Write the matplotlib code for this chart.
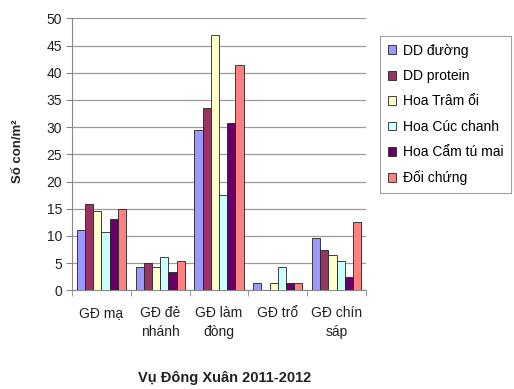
import matplotlib
matplotlib.use("Agg")
import matplotlib.pyplot as plt
import numpy as np

plt.rcParams['font.family'] = ['Liberation Sans', 'DejaVu Sans']

categories = ["GĐ mạ", "GĐ đẻ\nnhánh", "GĐ làm\nđòng", "GĐ trổ", "GĐ chín\nsáp"]
series_names = ["DD đường", "DD protein", "Hoa Trâm ổi", "Hoa Cúc chanh", "Hoa Cẩm tú mai", "Đối chứng"]
dd_duong = [11.1, 4.3, 29.5, 1.3, 9.7]
dd_protein = [15.8, 5.0, 33.6, 0.0, 7.5]
hoa_tram_oi = [14.6, 4.2, 47.0, 1.3, 6.4]
hoa_cuc_chanh = [10.8, 6.1, 17.6, 4.2, 5.4]
hoa_cam_tu_mai = [13.1, 3.4, 30.8, 1.3, 2.5]
doi_chung = [15.0, 5.3, 41.4, 1.3, 12.6]
series_values = [dd_duong, dd_protein, hoa_tram_oi, hoa_cuc_chanh, hoa_cam_tu_mai, doi_chung]
colors = ["#9999FF", "#993366", "#FFFFCC", "#CCFFFF", "#660066", "#FF8080"]
y_ticks = [0, 5, 10, 15, 20, 25, 30, 35, 40, 45, 50]

W, H = 514, 389
fig = plt.figure(figsize=(W / 100, H / 100), dpi=100)
ax = fig.add_axes([72 / W, 1 - 290.3 / H, (366 - 72) / W, (290.3 - 18.3) / H])

x = np.arange(len(categories))
bw = 0.14
n = len(series_values)
for i, (name, vals, c) in enumerate(zip(series_names, series_values, colors)):
    offs = (i - (n - 1) / 2) * bw
    ax.bar(x + offs, vals, width=bw, color=c, edgecolor="#222222", linewidth=0.6,
           label=name, zorder=3)

ax.set_xlim(-0.5, len(categories) - 0.5)
ax.set_ylim(0, 50)
ax.set_yticks(y_ticks)
ax.set_yticklabels([str(t) for t in y_ticks], fontsize=10, color="#222222")
ax.yaxis.grid(True, color="#9a9a9a", linewidth=0.9, zorder=0)
ax.set_axisbelow(True)

ax.set_xticks(x)
ax.set_xticklabels(categories, fontsize=10, color="#222222", linespacing=1.45)
ax.set_xticks(np.arange(len(categories) + 1) - 0.5, minor=True)
ax.tick_params(axis="x", which="major", length=0, pad=11)
ax.tick_params(axis="x", which="minor", length=4, color="#888888")
ax.tick_params(axis="y", length=4, color="#888888", pad=3)

for s in ["top", "right"]:
    ax.spines[s].set_visible(False)
ax.spines["left"].set_color("#888888")
ax.spines["bottom"].set_color("#888888")

fig.text(18 / W, 1 - 151 / H, "Số con/m²", rotation=90, fontsize=9.5, fontweight="bold",
         ha="center", va="center", color="#222222")
fig.text(225 / W, 1 - 378 / H, "Vụ Đông Xuân 2011-2012", fontsize=10.5, fontweight="bold",
         ha="center", va="center", color="#222222")

leg = fig.legend(loc="upper left", bbox_to_anchor=(380 / W, 1 - 36 / H), fontsize=10,
                 frameon=True, fancybox=False, edgecolor="#888888", handlelength=0.6,
                 handleheight=0.6, handletextpad=0.5, labelspacing=0.82,
                 borderpad=0.55, borderaxespad=0)
leg.get_frame().set_linewidth(0.8)

fig.savefig("out.png", dpi=100, facecolor="white")
